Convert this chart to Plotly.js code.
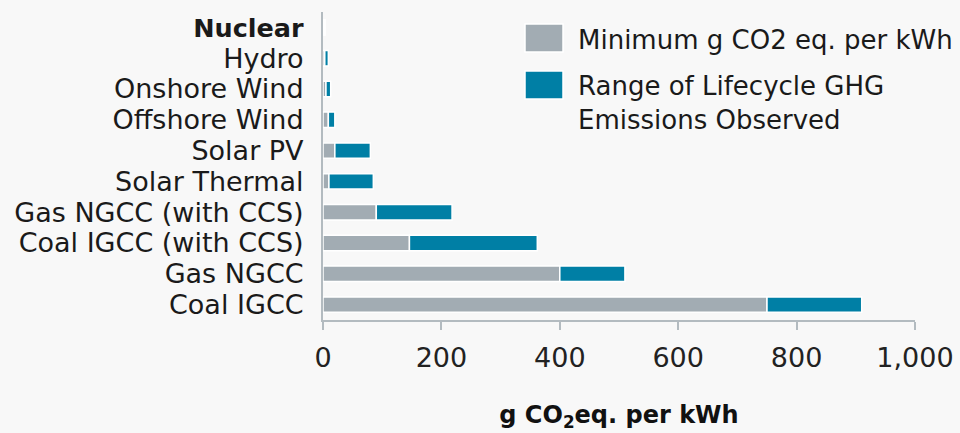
<!DOCTYPE html>
<html>
<head>
<meta charset="utf-8">
<script src="https://cdn.plot.ly/plotly-3.0.1.min.js"></script>
<style>
html,body{margin:0;padding:0;background:#f8f8f8;}
#chart{width:960px;height:433px;}
</style>
</head>
<body>
<div id="chart"></div>
<script>
const categories = ["Nuclear","Hydro","Onshore Wind","Offshore Wind","Solar PV","Solar Thermal","Gas NGCC (with CCS)","Coal IGCC (with CCS)","Gas NGCC","Coal IGCC"];
const tickLabels = ["<span style=\"font-size:25.5px\"><b>Nuclear</b></span>","Hydro","Onshore Wind","Offshore Wind","Solar PV","Solar Thermal","Gas NGCC (with CCS)","Coal IGCC (with CCS)","Gas NGCC","Coal IGCC"];
const minValues = [2, 3, 5, 9, 20, 10, 90, 146, 400, 750];
const maxValues = [4, 9, 13, 20, 80, 85, 218, 362, 510, 910];
const seriesNames = ["Minimum g CO2 eq. per kWh", "Range of Lifecycle GHG<br>Emissions Observed"];
const xTicks = [0, 200, 400, 600, 800, 1000];
const xTickText = ["0", "200", "400", "600", "800", "1,000"];
const xTitle = "<b>g CO<sub>2</sub>eq. per kWh</b>";

const grayC = "#a2acb3", blueC = "#007fa5";
const rangeValues = maxValues.map((v, i) => v - minValues[i]);
const FONT = "'DejaVu Sans', sans-serif";

const traces = [
  {type:"bar", orientation:"h", y:categories, x:minValues, name:seriesNames[0],
   marker:{color:grayC, line:{color:"#ffffff", width:1.5}}, showlegend:false, hoverinfo:"x+y"},
  {type:"bar", orientation:"h", y:categories, x:rangeValues, base:minValues, name:seriesNames[1],
   marker:{color:blueC, line:{color:"#ffffff", width:1.5}}, showlegend:false, hoverinfo:"x+y"}
];

const L = 323, R = 915, T = 12, B = 320;
const px = x => (x - L) / (R - L);
const py = y => (B - y) / (B - T);

const layout = {
  width:960, height:433,
  paper_bgcolor:"#f8f8f8", plot_bgcolor:"rgba(0,0,0,0)",
  margin:{l:L, r:960-R, t:T, b:433-B},
  barmode:"overlay", bargap:0.5,
  font:{family:FONT, color:"#1a1a1a", size:27},
  xaxis:{range:[0,1000], tickvals:xTicks, ticktext:xTickText, showgrid:false, zeroline:false,
    showline:true, linecolor:"#b3bbc0", linewidth:2, ticks:"outside", ticklen:8, tickwidth:2, tickcolor:"#b3bbc0",
    ticklabelstandoff:5,
    tickfont:{size:27, color:"#222", family:FONT},
    title:{text:xTitle, font:{size:24, color:"#111", family:FONT}, standoff:34}},
  yaxis:{type:"category", categoryarray:categories, tickvals:categories, ticktext:tickLabels, autorange:"reversed",
    showgrid:false, zeroline:false, showline:true, linecolor:"#b3bbc0", linewidth:2, ticks:"",
    ticklabelstandoff:12, tickfont:{size:27, color:"#1a1a1a", family:FONT}},
  shapes:[
    {type:"rect", xref:"paper", yref:"paper", x0:px(525), x1:px(563), y0:py(52), y1:py(24),
     fillcolor:grayC, line:{color:"#ffffff", width:1.5}},
    {type:"rect", xref:"paper", yref:"paper", x0:px(525), x1:px(563), y0:py(99), y1:py(71),
     fillcolor:blueC, line:{color:"#ffffff", width:1.5}}
  ],
  annotations:[
    {xref:"paper", yref:"paper", x:px(576), y:py(40), xanchor:"left", yanchor:"middle",
     text:seriesNames[0], showarrow:false, align:"left", font:{size:26, color:"#1a1a1a", family:FONT}},
    {xref:"paper", yref:"paper", x:px(576), y:py(103.5), xanchor:"left", yanchor:"middle",
     text:seriesNames[1], showarrow:false, align:"left", font:{size:26, color:"#1a1a1a", family:FONT}}
  ]
};

Plotly.newPlot("chart", traces, layout, {displayModeBar:false, staticPlot:true});
</script>
</body>
</html>
